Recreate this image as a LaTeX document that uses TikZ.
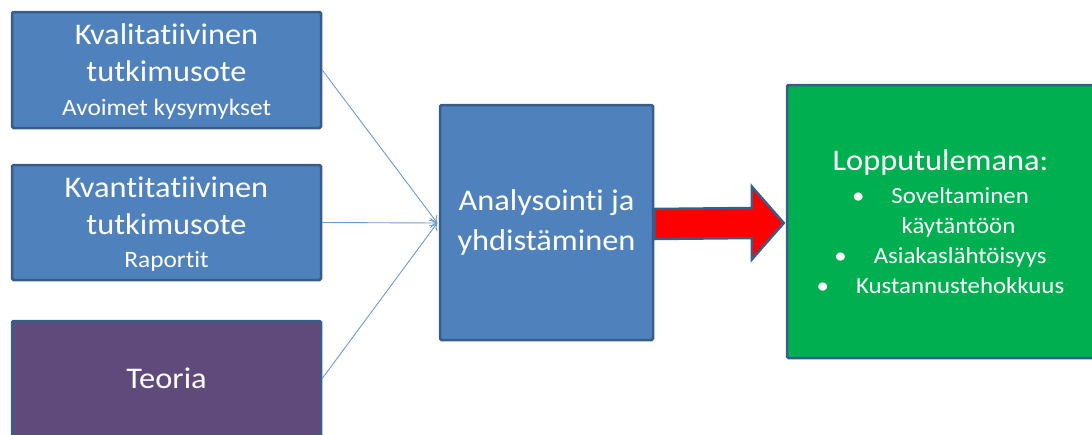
\documentclass[tikz,border=0pt]{standalone}
\usepackage{fontspec}
\setmainfont{Carlito}[Ligatures=NoCommon, FakeStretch=1.08]
\usetikzlibrary{arrows.meta,calc}
\definecolor{boxblue}{HTML}{4F81BD}
\definecolor{boxborder}{HTML}{385D8A}
\definecolor{purp}{HTML}{604A7B}
\definecolor{grn}{HTML}{00B050}
\definecolor{linkblue}{HTML}{6F9AD0}
\newcommand{\bigf}{\fontsize{30}{37}\selectfont}
\newcommand{\smallf}{\fontsize{23.5}{34}\selectfont}
\newcommand{\listf}{\fontsize{23}{30}\selectfont}
\begin{document}
\begin{tikzpicture}[x=1pt,y=-1pt,
  box/.style={draw=boxborder, line width=2.5pt, rounded corners=1.5pt, text=white, align=center, inner sep=0pt},
  srcbox/.style={box, fill=boxblue, minimum width=309pt, font=\bigf, text depth=-3pt},
  link/.style={draw=linkblue, line width=0.9pt, -{To[length=7pt,width=10pt]}},
  bigarrow/.style={fill=red, draw=boxborder, line width=2.5pt, line join=miter}]
\useasboundingbox (0,0) rectangle (1092,434);
\node[srcbox, minimum height=116pt] (kval) at (166.5,70)
  {Kvalitatiivinen\\tutkimusote\\[-3pt]{\smallf Avoimet kysymykset}};
\node[srcbox, minimum height=115pt] (kvan) at (166.5,222.5)
  {Kvantitatiivinen\\tutkimusote\\[-4pt]{\smallf Raportit}};
\node[box, fill=purp, minimum width=309pt, minimum height=115pt, font=\bigf] (teo) at (166.5,378.5)
  {Teoria};
\node[box, fill=boxblue, minimum width=213pt, minimum height=235pt, font=\fontsize{30}{40}\selectfont] (ana) at (546.5,222.5)
  {Analysointi ja\\yhdistäminen};
\node[box, fill=grn, minimum width=307pt, minimum height=273pt, font=\listf] (res) at (940.5,221.5)
  {{\bigf Lopputulemana:}\\[3pt]
   \textbullet\hspace{27pt}Soveltaminen\\
   \hspace*{36pt}käytäntöön\\
   \textbullet\hspace{27pt}Asiakaslähtöisyys\\
   \textbullet\hspace{27pt}Kustannustehokkuus};
\coordinate (join) at ($(ana.west)+(-1.5,0.5)$);
\draw[link] (kval.east) -- (join);
\draw[link] (kvan.east) -- (join);
\draw[link] (teo.east) -- (join);
\draw[bigarrow] ($(ana.east)+(0,-13.5)$) -- ($(res.west)+(-34,-13.5)$) -- ($(res.west)+(-34,-35)$)
  -- ($(res.west)+(-2,1.5)$) -- ($(res.west)+(-34,38)$) -- ($(res.west)+(-34,16.5)$)
  -- ($(ana.east)+(0,16.5)$) -- cycle;
\end{tikzpicture}
\end{document}
